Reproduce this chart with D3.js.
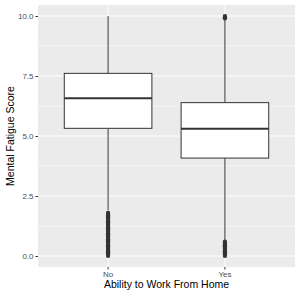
<!DOCTYPE html>
<html><head><meta charset="utf-8">
<script src="https://cdn.jsdelivr.net/npm/d3@7"></script>
<style>body{margin:0;background:#fff}svg{display:block}</style>
</head><body>
<svg id="c" width="300" height="297"></svg>
<script>
const categories = ["No", "Yes"];
const q1 = [5.32, 4.08];
const medians = [6.57, 5.3];
const q3 = [7.61, 6.39];
const whiskerLow = [1.9, 0.65];
const whiskerHigh = [10.0, 9.85];
const outliersNo = [0, 0.05, 0.1, 0.15, 0.2, 0.25, 0.3, 0.35, 0.4, 0.45, 0.5, 0.55, 0.6, 0.65, 0.7, 0.75, 0.8, 0.85, 0.9, 0.95, 1.0, 1.05, 1.1, 1.15, 1.2, 1.25, 1.3, 1.35, 1.4, 1.45, 1.5, 1.55, 1.6, 1.65, 1.7, 1.75, 1.8];
const outliersYes = [0, 0.05, 0.1, 0.15, 0.2, 0.25, 0.3, 0.35, 0.4, 0.45, 0.5, 0.55, 0.6, 9.9, 9.95, 10.0];
const yTicks = [0, 2.5, 5, 7.5, 10];
const yMinor = [1.25, 3.75, 6.25, 8.75];

const svg = d3.select("#c");
const L = 38, R = 295, T = 5, B = 267;
const x = d3.scaleBand().domain(categories).range([L, R]).paddingInner(0.25).paddingOuter(0.225);
const y = d3.scaleLinear().domain([0, 10]).range([256, 16]);

svg.append("rect").attr("x", L).attr("y", T).attr("width", R - L).attr("height", B - T).attr("fill", "#EBEBEB");
svg.selectAll(".mn").data(yMinor).enter().append("line")
  .attr("x1", L).attr("x2", R).attr("y1", d => y(d)).attr("y2", d => y(d))
  .attr("stroke", "#fff").attr("stroke-width", 0.5);
svg.selectAll(".mj").data(yTicks).enter().append("line")
  .attr("x1", L).attr("x2", R).attr("y1", d => y(d)).attr("y2", d => y(d))
  .attr("stroke", "#fff").attr("stroke-width", 1);
svg.selectAll(".vx").data(categories).enter().append("line")
  .attr("x1", d => x(d) + x.bandwidth() / 2).attr("x2", d => x(d) + x.bandwidth() / 2)
  .attr("y1", T).attr("y2", B).attr("stroke", "#fff").attr("stroke-width", 1);

const cx = d => x(d) + x.bandwidth() / 2;
categories.forEach((c, i) => {
  const g = svg.append("g");
  g.append("line").attr("x1", cx(c)).attr("x2", cx(c)).attr("y1", y(whiskerHigh[i])).attr("y2", y(q3[i]))
    .attr("stroke", "#333").attr("stroke-width", 1);
  g.append("line").attr("x1", cx(c)).attr("x2", cx(c)).attr("y1", y(q1[i])).attr("y2", y(whiskerLow[i]))
    .attr("stroke", "#333").attr("stroke-width", 1);
  g.append("rect").attr("x", x(c)).attr("width", x.bandwidth())
    .attr("y", y(q3[i])).attr("height", y(q1[i]) - y(q3[i]))
    .attr("fill", "#fff").attr("stroke", "#333").attr("stroke-width", 1);
  g.append("line").attr("x1", x(c)).attr("x2", x(c) + x.bandwidth()).attr("y1", y(medians[i])).attr("y2", y(medians[i]))
    .attr("stroke", "#333").attr("stroke-width", 2);
  const outs = i === 0 ? outliersNo : outliersYes;
  g.selectAll("circle").data(outs).enter().append("circle")
    .attr("cx", cx(c)).attr("cy", d => y(d)).attr("r", 2.1).attr("fill", "#333");
});

const ya = svg.append("g").attr("transform", `translate(${L},0)`)
  .call(d3.axisLeft(y).tickValues(yTicks).tickFormat(d3.format(".1f")).tickSize(2.5).tickPadding(2));
ya.select(".domain").remove();
ya.selectAll("line").attr("stroke", "#333");
ya.selectAll("text").attr("fill", "#4D4D4D").style("font-family", "Liberation Sans, Arial, sans-serif").style("font-size", "8px");

const xa = svg.append("g").attr("transform", `translate(0,${B})`)
  .call(d3.axisBottom(x).tickSize(2.5).tickPadding(1.5));
xa.select(".domain").remove();
xa.selectAll("line").attr("stroke", "#333");
xa.selectAll("text").attr("fill", "#4D4D4D").style("font-family", "Liberation Sans, Arial, sans-serif").style("font-size", "8px");

svg.append("text").attr("x", (L + R) / 2).attr("y", 288).attr("text-anchor", "middle")
  .style("font-family", "Liberation Sans, Arial, sans-serif").style("font-size", "10.5px").attr("fill", "#000")
  .text("Ability to Work From Home");
svg.append("text").attr("transform", `translate(14,${(T + B) / 2}) rotate(-90)`).attr("text-anchor", "middle")
  .style("font-family", "Liberation Sans, Arial, sans-serif").style("font-size", "10.5px").attr("fill", "#000")
  .text("Mental Fatigue Score");
</script>
</body></html>
